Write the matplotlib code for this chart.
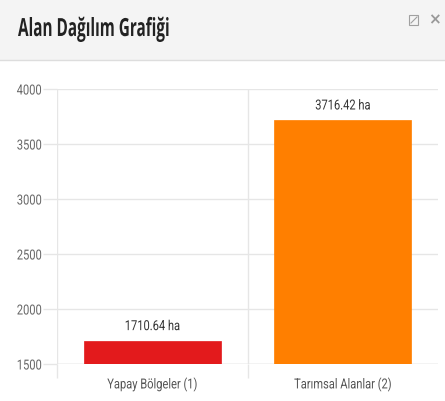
import matplotlib
matplotlib.use('Agg')
import matplotlib.pyplot as plt
from matplotlib.patches import Rectangle
from matplotlib.lines import Line2D
from matplotlib.patheffects import AbstractPathEffect
from matplotlib.transforms import Affine2D

# Veriler
kategoriler = ['Yapay Bölgeler (1)', 'Tarımsal Alanlar (2)']
alanlar = [1710.64, 3716.42]
renkler = ['#e31a1c', '#ff7f00']
y_ticks = [1500, 2000, 2500, 3000, 3500, 4000]

dar_font = ['Roboto', 'DejaVu Sans']
grid_renk = '#e6e6e6'


# Dar (condensed) yazı görünümü için yatayda sıkıştırma
class Sikistir(AbstractPathEffect):
    def __init__(self, sx, anchor='center'):
        super().__init__()
        self.sx = sx
        self.anchor = anchor

    def draw_path(self, renderer, gc, tpath, affine, rgbFace=None):
        ext = affine.transform_path(tpath).get_extents()
        x0 = {'left': ext.x0, 'center': (ext.x0 + ext.x1) / 2, 'right': ext.x1}[self.anchor]
        yeni = affine + Affine2D().translate(-x0, 0).scale(self.sx, 1).translate(x0, 0)
        renderer.draw_path(gc, tpath, yeni, rgbFace)


fig = plt.figure(figsize=(4.45, 4.01), dpi=100)
W, H = 445, 401

# Başlık alanı
fig.patches.append(Rectangle((0, 1 - 60 / H), 1, 60 / H, transform=fig.transFigure,
                             facecolor='#f4f4f4', edgecolor='none', zorder=0))
fig.lines.append(Line2D([0, 1], [1 - 60 / H, 1 - 60 / H], transform=fig.transFigure,
                        color='#dddddd', lw=1))
baslik = fig.text(18 / W, 1 - 36 / H, 'Alan Dağılım Grafiği', fontsize=18, fontweight='bold',
                  family='Open Sans', color='#222222', ha='left', va='baseline')
# büyütme simgesi (şekil olarak)
fig.patches.append(Rectangle((409 / W, 1 - 25 / H), 9 / W, 10 / H, transform=fig.transFigure,
                             facecolor='none', edgecolor='#a0a0a0', lw=0.8))
fig.lines.append(Line2D([411 / W, 417 / W], [1 - 23 / H, 1 - 17 / H], transform=fig.transFigure,
                        color='#a0a0a0', lw=0.8))
fig.text(434 / W, 1 - 20 / H, '×', fontsize=11, fontweight='bold', color='#999999',
         ha='center', va='center')

ax = fig.add_axes([57 / W, (H - 364) / H, 381 / W, 275 / H])
x = range(len(kategoriler))
ax.bar(x, alanlar, width=0.72, color=renkler, edgecolor=renkler, linewidth=0.5, zorder=3)
for xi, v in zip(x, alanlar):
    ax.text(xi, v + 70, f'{v:.2f} ha', ha='center', va='bottom', fontsize=10,
            family=dar_font, color='#333333', path_effects=[Sikistir(0.8)])

ax.set_xlim(-0.5, 1.5)
ax.set_ylim(1500, 4000)
ax.set_yticks(y_ticks)
ax.set_yticklabels([str(t) for t in y_ticks], family=dar_font, fontsize=10, color='#666666')
ax.set_xticks(list(x))
ax.set_xticklabels(kategoriler, family=dar_font, fontsize=10, color='#555555')
ax.set_xticks([-0.5, 0.5], minor=True)
ax.tick_params(axis='x', which='major', length=0, pad=9)
ax.tick_params(axis='x', which='minor', length=10, color=grid_renk, width=1)
ax.tick_params(axis='y', length=10, color=grid_renk, width=1, pad=1)
ax.grid(axis='y', color=grid_renk, lw=1, zorder=0)
ax.grid(axis='x', which='minor', color=grid_renk, lw=1, zorder=0)
for s in ax.spines.values():
    s.set_visible(False)
ax.axhline(1500, color='#d8d8d8', lw=1, zorder=1)

for t in ax.get_yticklabels():
    t.set_path_effects([Sikistir(0.8, 'right')])
for t in ax.get_xticklabels():
    t.set_path_effects([Sikistir(0.8)])

# başlık genişliğini referanstaki (~152 px) dar yazıya uydur
fig.canvas.draw()
genislik = baslik.get_window_extent().width
baslik.set_path_effects([Sikistir(152 / genislik, 'left')])

fig.savefig('out.png', dpi=100)
